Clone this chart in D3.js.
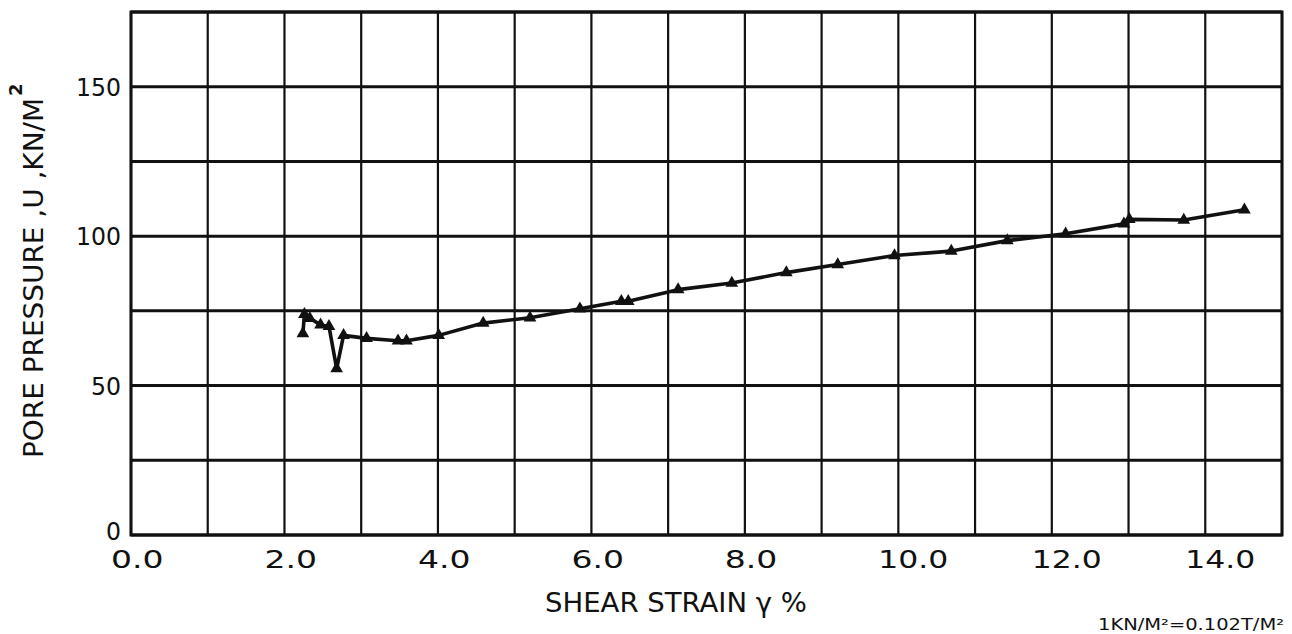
<!DOCTYPE html>
<html>
<head>
<meta charset="utf-8">
<script src="https://cdn.jsdelivr.net/npm/d3@7"></script>
<style>
  html, body { margin: 0; padding: 0; background: #fff; }
  svg { display: block; }
  text { font-family: "DejaVu Sans", sans-serif; fill: #111; }
</style>
</head>
<body>
<svg id="chart" width="1292" height="634"></svg>
<script>
// Shear strain (%) and pore pressure (kN/m^2) readings, in test order
const strain = [2.24, 2.26, 2.33, 2.47, 2.58, 2.68, 2.77, 3.07, 3.48, 3.59, 4.01, 4.59, 5.20, 5.85,
  6.39, 6.48, 7.13, 7.83, 8.54, 9.21, 9.95, 10.69, 11.42, 12.18, 12.94, 13.01, 13.72, 14.51];
const porePressure = [67.4, 73.8, 72.5, 70.3, 69.8, 55.7, 66.8, 65.8, 65.0, 65.0, 66.8, 70.9, 72.7, 75.7,
  78.2, 78.2, 82.1, 84.3, 87.8, 90.5, 93.5, 95.0, 98.5, 100.8, 104.1, 105.6, 105.4, 108.8];

const xTickValues = [0, 2, 4, 6, 8, 10, 12, 14];
const xTickLabels = ["0.0", "2.0", "4.0", "6.0", "8.0", "10.0", "12.0", "14.0"];
const yTickValues = [0, 50, 100, 150];
const yTickLabels = ["0", "50", "100", "150"];
const xGrid = d3.range(0, 16, 1);
const yGrid = d3.range(0, 176, 25);

const svg = d3.select("#chart");
const x = d3.scaleLinear().domain([0, 15]).range([131, 1282]);
const y = d3.scaleLinear().domain([0, 175]).range([535, 12]);

const grid = svg.append("g");
// vertical grid lines
grid.selectAll("line.v").data(xGrid).join("line")
  .attr("x1", d => x(d)).attr("x2", d => x(d))
  .attr("y1", y(0)).attr("y2", y(175))
  .attr("stroke", "#111").attr("stroke-width", 2.2);
// horizontal grid lines
grid.selectAll("line.h").data(yGrid).join("line")
  .attr("x1", x(0)).attr("x2", x(15))
  .attr("y1", d => y(d)).attr("y2", d => y(d))
  .attr("stroke", "#111").attr("stroke-width", 3);
// frame
grid.append("rect")
  .attr("x", x(0)).attr("y", y(175))
  .attr("width", x(15) - x(0)).attr("height", y(0) - y(175))
  .attr("fill", "none").attr("stroke", "#111").attr("stroke-width", 3);

// x tick labels, set from the left of each grid line
svg.append("g").selectAll("text").data(xTickValues).join("text")
  .attr("x", d => x(d) - 20)
  .attr("y", 568)
  .attr("font-size", 25)
  .attr("textLength", (d, i) => xTickLabels[i].length * 17.5)
  .attr("lengthAdjust", "spacingAndGlyphs")
  .text((d, i) => xTickLabels[i]);

// y tick labels
svg.append("g").selectAll("text").data(yTickValues).join("text")
  .attr("x", 121)
  .attr("y", d => y(d) + (d === 0 ? -4 : 0))
  .attr("dy", "0.36em")
  .attr("text-anchor", "end")
  .attr("font-size", 25)
  .attr("textLength", (d, i) => yTickLabels[i].length * 15)
  .attr("lengthAdjust", "spacingAndGlyphs")
  .text((d, i) => yTickLabels[i]);

// data line
const pts = strain.map((s, i) => [s, porePressure[i]]);
svg.append("path")
  .datum(pts)
  .attr("fill", "none")
  .attr("stroke", "#111")
  .attr("stroke-width", 3.6)
  .attr("stroke-linejoin", "round")
  .attr("d", d3.line().x(d => x(d[0])).y(d => y(d[1])));

// triangle markers
svg.append("g").selectAll("path").data(pts).join("path")
  .attr("transform", d => `translate(${x(d[0])},${y(d[1])})`)
  .attr("d", d3.symbol().type(d3.symbolTriangle).size(70))
  .attr("fill", "#111");

// axis titles
svg.append("text")
  .attr("transform", "translate(43,458) rotate(-90)")
  .attr("font-size", 27)
  .attr("textLength", 360)
  .attr("lengthAdjust", "spacingAndGlyphs")
  .text("PORE PRESSURE ,U ,KN/M");
svg.append("text")
  .attr("transform", "translate(22,96) rotate(-90)")
  .attr("font-size", 18)
  .attr("font-weight", "bold")
  .text("2");

svg.append("text")
  .attr("x", 545).attr("y", 612)
  .attr("font-size", 26)
  .attr("textLength", 262)
  .attr("lengthAdjust", "spacingAndGlyphs")
  .text("SHEAR STRAIN  γ  %");

// unit conversion note in the bottom-right corner
svg.append("text")
  .attr("x", 1098).attr("y", 630)
  .attr("font-size", 16)
  .attr("textLength", 186)
  .attr("lengthAdjust", "spacingAndGlyphs")
  .text("1KN/M²=0.102T/M²");
</script>
</body>
</html>
